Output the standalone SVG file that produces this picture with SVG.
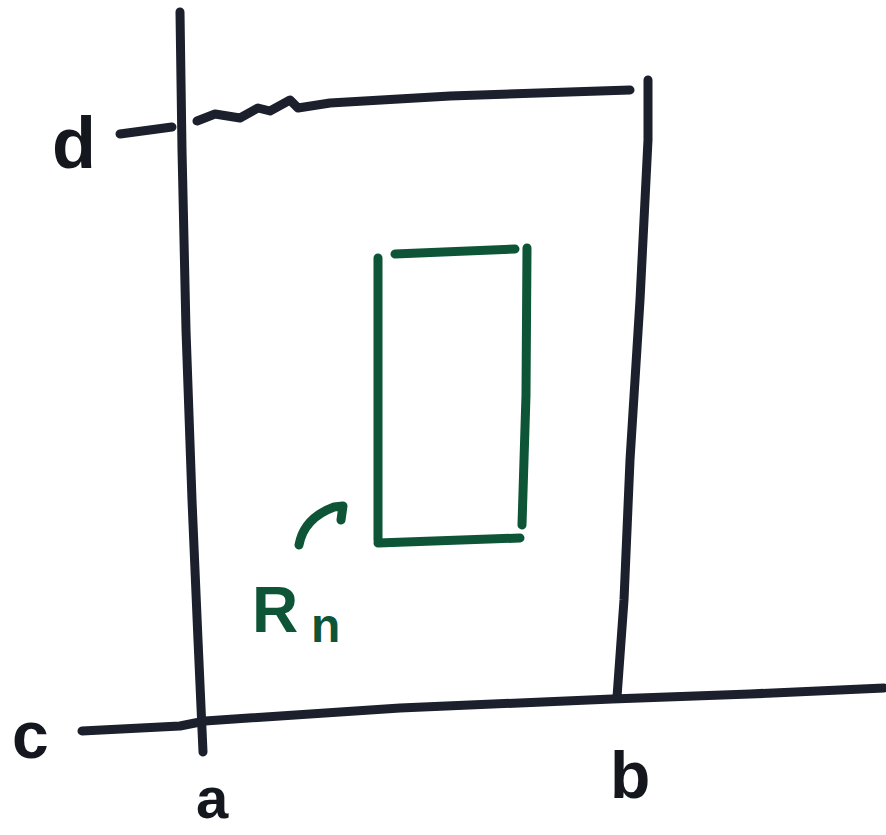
<svg xmlns="http://www.w3.org/2000/svg" width="886" height="835" viewBox="0 0 886 835">
<style>
.ink{fill:none;stroke:#1c1f2c;stroke-width:9;stroke-linecap:round;stroke-linejoin:round}
.grn{fill:none;stroke:#0e5538;stroke-width:9;stroke-linecap:round;stroke-linejoin:round}
.lbl{font-family:"Liberation Sans",Arial,sans-serif;font-weight:bold;fill:#15171f}
.glbl{font-family:"Liberation Sans",Arial,sans-serif;font-weight:bold;fill:#0e5538}
</style>
<rect width="886" height="835" fill="#ffffff"/>
<g id="axes">
<path class="ink" d="M180,12 L182,150 L186,330 L192,500 L198,640 L203,752"/>
<path class="ink" d="M82,731 L180,726 L205,721 L400,708 L612,699 L750,694 L884,688"/>
</g>
<g id="region">
<path class="ink" d="M120,134 L172,127"/>
<path class="ink" d="M197,121 L215,114 L240,118 L258,108 L270,111 L290,100 L298,108 L330,103 L450,96 L630,90"/>
<path class="ink" d="M648,80 L648,140 L640,300 L630,460 L624,600 L617,697"/>
</g>
<g id="subregion">
<path class="grn" d="M378,258 L378,540"/>
<path class="grn" d="M395,254 L515,249"/>
<path class="grn" d="M527,248 L526,395 L522,525"/>
<path class="grn" d="M378,543 L520,538"/>
</g>
<g id="connectors">
<path class="grn" d="M299,545 Q304,518 334,507 L343,506 L341,520"/>
</g>
<g id="labels">
<text class="lbl" x="52" y="168" font-size="72">d</text>
<text class="lbl" x="12" y="758" font-size="66">c</text>
<text class="lbl" x="196" y="818" font-size="58">a</text>
<text class="lbl" x="610" y="798" font-size="66">b</text>
<text class="glbl" x="252" y="632" font-size="64">R</text>
<text class="glbl" x="311" y="642" font-size="48">n</text>
</g>
</svg>
